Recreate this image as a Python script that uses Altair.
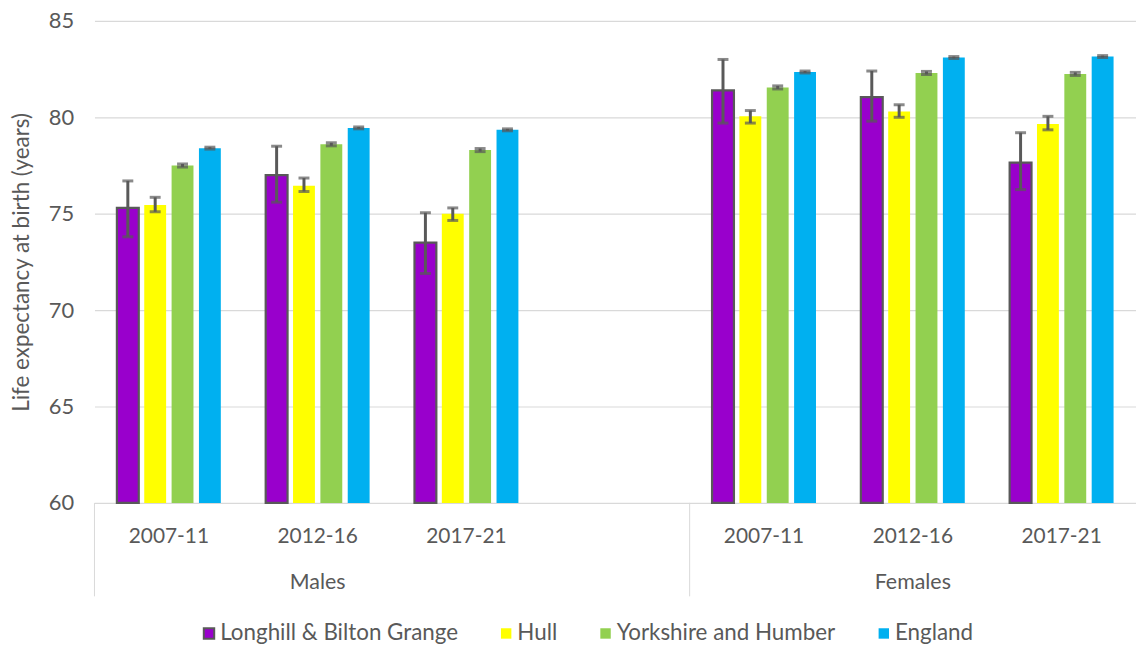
import altair as alt
import pandas as pd

FONT = "Lato"
GREY = "#595959"
GRID = "#D9D9D9"

periods = ["2007-11", "2012-16", "2017-21"]
sexes = ["Males", "Females"]
series = ["Longhill & Bilton Grange", "Hull", "Yorkshire and Humber", "England"]
colors = ["#9900CC", "#FFFF00", "#92D050", "#00B0F0"]
strokes = [GREY, "transparent", "transparent", "transparent"]

# Life expectancy values (years) per series, one value per period
male_value = {
    "Longhill & Bilton Grange": [75.3, 77.0, 73.5],
    "Hull": [75.45, 76.45, 75.0],
    "Yorkshire and Humber": [77.5, 78.6, 78.3],
    "England": [78.4, 79.45, 79.35],
}
male_low = {
    "Longhill & Bilton Grange": [73.8, 75.6, 71.9],
    "Hull": [75.1, 76.15, 74.65],
    "Yorkshire and Humber": [77.42, 78.52, 78.22],
    "England": [78.35, 79.4, 79.3],
}
male_high = {
    "Longhill & Bilton Grange": [76.7, 78.5, 75.05],
    "Hull": [75.85, 76.85, 75.3],
    "Yorkshire and Humber": [77.58, 78.68, 78.38],
    "England": [78.45, 79.5, 79.4],
}
female_value = {
    "Longhill & Bilton Grange": [81.4, 81.05, 77.65],
    "Hull": [80.05, 80.3, 79.65],
    "Yorkshire and Humber": [81.55, 82.3, 82.25],
    "England": [82.35, 83.1, 83.15],
}
female_low = {
    "Longhill & Bilton Grange": [79.7, 79.8, 76.25],
    "Hull": [79.7, 80.0, 79.35],
    "Yorkshire and Humber": [81.47, 82.22, 82.17],
    "England": [82.3, 83.05, 83.1],
}
female_high = {
    "Longhill & Bilton Grange": [83.0, 82.4, 79.2],
    "Hull": [80.35, 80.65, 80.05],
    "Yorkshire and Humber": [81.63, 82.38, 82.33],
    "England": [82.4, 83.15, 83.2],
}

y_ticks = [60, 65, 70, 75, 80, 85]

slots = [f"Males {p}" for p in periods] + ["Males gap"] + [f"Females {p}" for p in periods]

rows = []
for sex, val, lo, hi in [("Males", male_value, male_low, male_high),
                         ("Females", female_value, female_low, female_high)]:
    for s in series:
        for i, p in enumerate(periods):
            rows.append(dict(slot=f"{sex} {p}", series=s, value=val[s][i],
                             low=lo[s][i], high=hi[s][i]))
df = pd.DataFrame(rows)

year_df = pd.DataFrame({"slot": [f"{sx} {p}" for sx in sexes for p in periods],
                        "label": periods * 2})
group_df = pd.DataFrame({"slot": ["Males 2012-16", "Females 2012-16"], "label": sexes})
sep_df = pd.DataFrame({"slot": ["Males 2007-11", "Females 2007-11"]})

W, H = 1048, 485

xscale = alt.Scale(domain=slots, paddingInner=0, paddingOuter=0)
xoff_scale = alt.Scale(domain=series, paddingInner=0.2, paddingOuter=0.82)
yscale = alt.Scale(domain=[60, 85], zero=False, nice=False)

x = alt.X("slot:N", scale=xscale, axis=None)
xo = alt.XOffset("series:N", scale=xoff_scale)
yaxis = alt.Axis(values=y_ticks, title="Life expectancy at birth (years)")

bars = alt.Chart(df).mark_bar(strokeWidth=2.2).encode(
    x=x,
    xOffset=xo,
    y=alt.Y("value:Q", scale=yscale, axis=yaxis),
    y2=alt.datum(60),
    fill=alt.Fill("series:N", scale=alt.Scale(domain=series, range=colors), title=None),
    stroke=alt.Stroke("series:N", scale=alt.Scale(domain=series, range=strokes), title=None),
)

err = alt.Chart(df).mark_rule(color=GREY, strokeWidth=3).encode(
    x=x, xOffset=xo, y=alt.Y("low:Q", scale=yscale, axis=yaxis), y2="high:Q"
)
cap_lo = alt.Chart(df).mark_tick(color=GREY, thickness=3, size=11).encode(
    x=x, xOffset=xo, y=alt.Y("low:Q", scale=yscale, axis=yaxis)
)
cap_hi = alt.Chart(df).mark_tick(color=GREY, thickness=3, size=11).encode(
    x=x, xOffset=xo, y=alt.Y("high:Q", scale=yscale, axis=yaxis)
)

year_text = alt.Chart(year_df).mark_text(fontSize=21, color=GREY, font=FONT).encode(
    x=x, y=alt.value(H + 34), text="label:N"
)
group_text = alt.Chart(group_df).mark_text(fontSize=21.5, color=GREY, font=FONT).encode(
    x=x, y=alt.value(H + 81), text="label:N"
)
seps = alt.Chart(sep_df).mark_rule(color=GRID, strokeWidth=1).encode(
    x=alt.X("slot:N", scale=xscale, axis=None, bandPosition=0),
    y=alt.value(H), y2=alt.value(H + 94)
)

chart = alt.layer(bars, err, cap_lo, cap_hi, year_text, group_text, seps).properties(
    width=W, height=H,
    autosize=alt.AutoSizeParams(type="none"),
    padding={"left": 87, "top": 11, "right": 0, "bottom": 141},
).configure_view(stroke="transparent").configure_axis(
    grid=True, gridColor=GRID, gridWidth=1.2, domain=False, ticks=False,
    labelFont=FONT, labelFontSize=22, labelColor=GREY, labelPadding=21,
    titleFont=FONT, titleFontSize=22.5, titleColor=GREY, titleFontWeight="normal",
    titlePadding=15,
).configure_legend(
    orient="none", legendX=104, legendY=605, direction="horizontal",
    symbolType="square", symbolSize=110, symbolStrokeWidth=2, symbolOpacity=1,
    labelFont=FONT, labelFontSize=22.5, labelColor=GREY, labelOffset=0,
    columnPadding=37, labelLimit=400,
)

chart.save("out.html", embed_options={"renderer": "svg", "actions": False})
